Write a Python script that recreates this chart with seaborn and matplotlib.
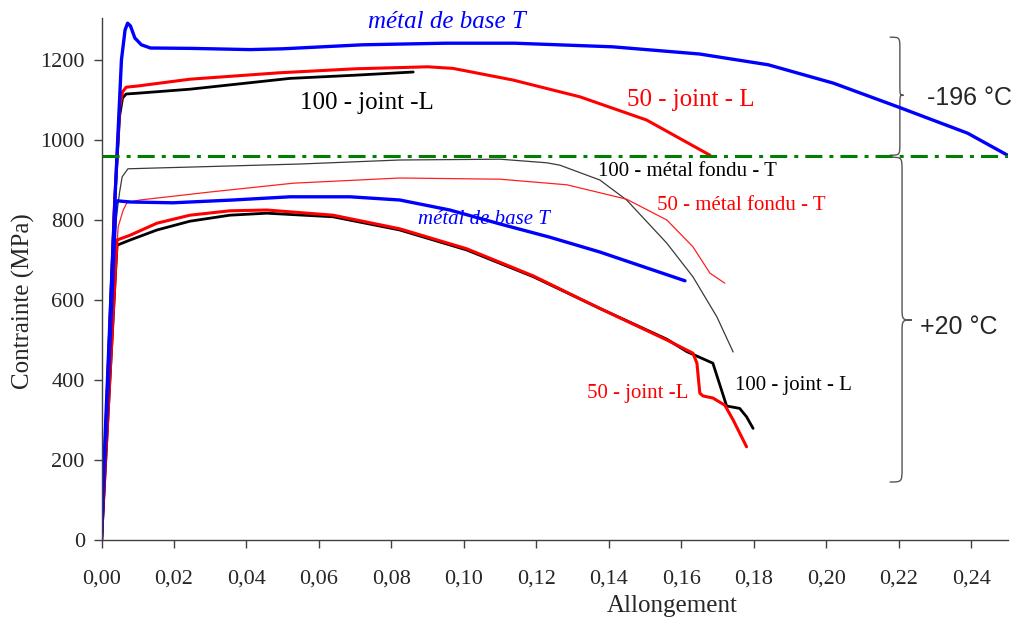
import numpy as np
import pandas as pd
import seaborn as sns
import matplotlib.pyplot as plt
from matplotlib.path import Path
from matplotlib.patches import PathPatch

# -196 C curves
b196_x = [0, 0.0005, 0.0037, 0.0055, 0.0065, 0.0072, 0.0080, 0.0092, 0.0110, 0.0135, 0.025, 0.041, 0.050, 0.072, 0.095, 0.114, 0.141, 0.165, 0.184, 0.202, 0.220, 0.239, 0.250]
b196_y = [0, 150, 850, 1200, 1275, 1292, 1285, 1255, 1238, 1230, 1229, 1226, 1228, 1238, 1242, 1242, 1233, 1215, 1188, 1142, 1082, 1017, 962]

r196_x = [0, 0.0036, 0.0050, 0.0058, 0.0068, 0.010, 0.0244, 0.049, 0.070, 0.090, 0.097, 0.1135, 0.132, 0.1504, 0.1679]
r196_y = [0, 840, 1080, 1120, 1132, 1135, 1152, 1168, 1178, 1183, 1179, 1150, 1108, 1050, 962]

k196_x = [0, 0.0036, 0.0050, 0.0058, 0.0068, 0.010, 0.0244, 0.052, 0.070, 0.086]
k196_y = [0, 840, 1060, 1105, 1115, 1117, 1127, 1154, 1162, 1170]

# +20 C curves
g20_x = [0, 0.0040, 0.0050, 0.0057, 0.0073, 0.0150, 0.0272, 0.0548, 0.0823, 0.110, 0.1229, 0.1265, 0.1375, 0.1449, 0.156, 0.1632, 0.1698, 0.1743]
g20_y = [0, 800, 870, 908, 928, 930, 933, 940, 950, 952, 943, 937, 900, 850, 742, 658, 558, 470]

r20t_x = [0, 0.0040, 0.0046, 0.0060, 0.0070, 0.0106, 0.0300, 0.0529, 0.0823, 0.110, 0.1284, 0.1449, 0.156, 0.1632, 0.1679, 0.172]
r20t_y = [0, 700, 783, 825, 843, 850, 870, 892, 905, 902, 888, 852, 800, 733, 667, 642]

b20_x = [0, 0.0040, 0.0043, 0.0080, 0.0197, 0.0363, 0.052, 0.0686, 0.0823, 0.0961, 0.110, 0.1237, 0.1375, 0.161]
b20_y = [0, 840, 848, 845, 843, 850, 858, 858, 850, 825, 790, 757, 720, 648]

r20_x = [0, 0.0040, 0.0043, 0.0079, 0.0153, 0.0244, 0.0354, 0.0456, 0.0639, 0.0823, 0.1008, 0.1192, 0.1375, 0.156, 0.1632, 0.1643, 0.1651, 0.166, 0.1687, 0.172, 0.1743, 0.178]
r20_y = [0, 700, 750, 762, 792, 812, 823, 825, 812, 778, 728, 660, 579, 500, 467, 442, 367, 360, 355, 337, 300, 233]

k20_x = [0, 0.0040, 0.0043, 0.0079, 0.0153, 0.0244, 0.0354, 0.0456, 0.0639, 0.0823, 0.1008, 0.1192, 0.1375, 0.156, 0.1615, 0.1687, 0.1725, 0.1761, 0.178, 0.1798]
k20_y = [0, 690, 737, 750, 775, 797, 812, 817, 808, 775, 725, 658, 579, 502, 471, 442, 335, 329, 308, 279]

limit_y = 960

xticks = [0, 0.02, 0.04, 0.06, 0.08, 0.10, 0.12, 0.14, 0.16, 0.18, 0.20, 0.22, 0.24]
xtick_labels = ['0,00', '0,02', '0,04', '0,06', '0,08', '0,10', '0,12', '0,14', '0,16', '0,18', '0,20', '0,22', '0,24']
yticks = [0, 200, 400, 600, 800, 1000, 1200]

sns.set_theme(style='ticks')
plt.rcParams['font.family'] = ['Liberation Serif', 'DejaVu Serif']

fig = plt.figure(figsize=(10.26, 6.26), dpi=100)
ax = fig.add_axes([101.5 / 1026, 86 / 626, 906 / 1026, 522 / 626])

curves = [
    (g20_x, g20_y, '#3a3a3a', 0.9),
    (r20t_x, r20t_y, '#ff2020', 0.9),
    (k20_x, k20_y, 'black', 2.0),
    (r20_x, r20_y, '#ff0000', 2.2),
    (b20_x, b20_y, '#0000ff', 2.4),
    (k196_x, k196_y, 'black', 2.0),
    (r196_x, r196_y, '#ff0000', 2.2),
    (b196_x, b196_y, '#0000ff', 2.4),
]
for cx, cy, col, lw in curves:
    sns.lineplot(x=cx, y=cy, ax=ax, color=col, lw=lw, sort=False, estimator=None)

ax.axhline(limit_y, color='#008000', lw=2.2, dashes=(5.6, 2.3, 1.3, 2.3))

ax.set_xlim(0, 0.25)
ax.set_ylim(0, 1305)
ax.set_xticks(xticks)
ax.set_xticklabels(xtick_labels)
ax.set_yticks(yticks)
sns.despine(ax=ax)
for s in ['left', 'bottom']:
    ax.spines[s].set_color('#404040')
    ax.spines[s].set_linewidth(1.0)
ax.tick_params(axis='x', length=6, width=1, color='#404040', labelsize=16, pad=15)
ax.tick_params(axis='y', length=6, width=1, color='#404040', labelsize=16, pad=6)

ax.set_xlabel('Allongement', fontsize=18)
ax.xaxis.set_label_coords(0.63, -0.105)
ax.set_ylabel('Contrainte (MPa)', fontsize=18)
ax.yaxis.set_label_coords(-0.073, 0.458)

# curve labels
ax.text(0.0953, 1295, 'métal de base T', color='#0000ff', fontsize=18, style='italic', ha='center', va='center', clip_on=False)
ax.text(0.0548, 1092, '100 - joint -L', color='black', fontsize=18, va='center')
ax.text(0.145, 1100, '50 - joint - L', color='#ff0000', fontsize=18, va='center')
ax.text(0.137, 920, '100 - métal fondu - T', color='black', fontsize=15, va='center')
ax.text(0.1532, 837, '50 - métal fondu - T', color='#ff0000', fontsize=15, va='center')
ax.text(0.0873, 800, 'métal de base T', color='#0000ff', fontsize=15, style='italic', va='center')
ax.text(0.134, 367, '50 - joint -L', color='#ff0000', fontsize=15, va='center')
ax.text(0.1748, 387, '100 - joint - L', color='black', fontsize=15, va='center')
ax.text(0.2277, 1105, '-196 °C', fontsize=18, family=['Liberation Sans', 'DejaVu Sans'], va='center', clip_on=False)
ax.text(0.2258, 532, '+20 °C', fontsize=18, family=['Liberation Sans', 'DejaVu Sans'], va='center', clip_on=False)


def brace(x0, x1, x2, ytop, ybot, ymid, r):
    verts = [
        (x0, ytop), (x1, ytop), (x1, ytop), (x1, ytop - r),
        (x1, ymid + r),
        (x1, ymid), (x1, ymid), (x2, ymid),
        (x1, ymid), (x1, ymid), (x1, ymid - r),
        (x1, ybot + r),
        (x1, ybot), (x1, ybot), (x0, ybot),
    ]
    codes = [Path.MOVETO, Path.CURVE4, Path.CURVE4, Path.CURVE4,
             Path.LINETO,
             Path.CURVE4, Path.CURVE4, Path.CURVE4,
             Path.CURVE4, Path.CURVE4, Path.CURVE4,
             Path.LINETO,
             Path.CURVE4, Path.CURVE4, Path.CURVE4]
    ax.add_patch(PathPatch(Path(verts, codes), fill=False, edgecolor='#555555', lw=1.0, clip_on=False))


brace(0.2175, 0.2203, 0.2213, 1257, 962, 1112, 30)
brace(0.2175, 0.2209, 0.2236, 957, 145, 550, 35)

fig.savefig('out.png', dpi=100)
